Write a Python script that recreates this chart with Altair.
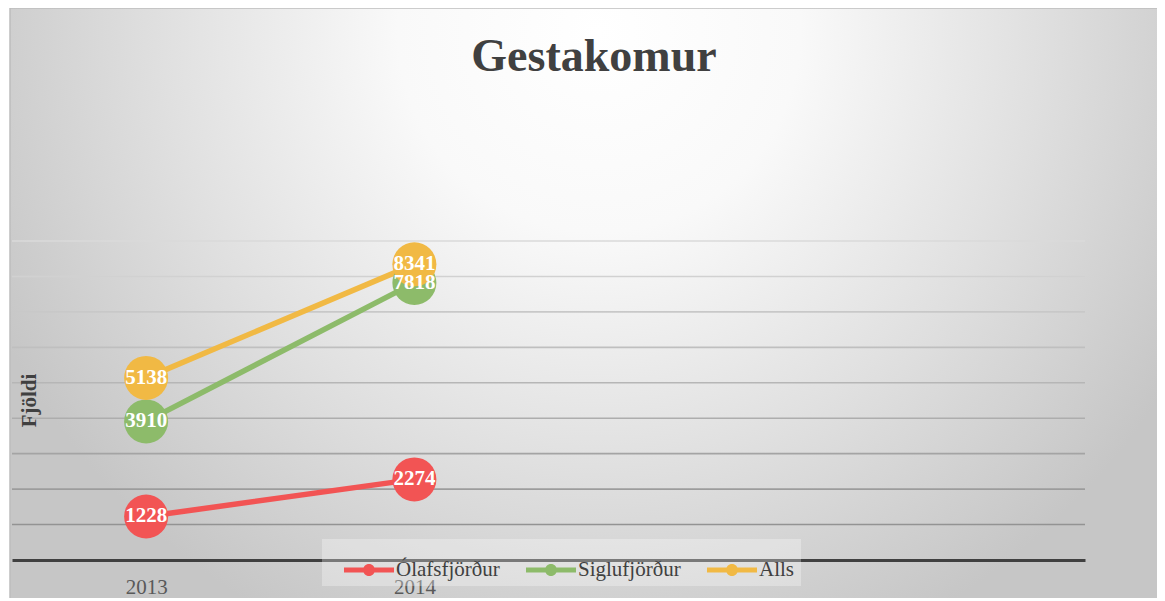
import altair as alt
import pandas as pd

# ---- data ----
years = ["2013", "2014"]
all_categories = ["2013", "2014", "2015", "2016"]
series = ["Ólafsfjörður", "Siglufjörður", "Alls"]
olafsfjordur = [1228, 2274]
siglufjordur = [3910, 7818]
alls = [5138, 8341]
colors = ["#F25454", "#8DBB6A", "#F1B944"]
grid_values = [1000, 2000, 3000, 4000, 5000, 6000, 7000, 8000, 9000]
title_text = ["Gestakomur"]

rows = []
for s, vals in zip(series, [olafsfjordur, siglufjordur, alls]):
    for yr, v in zip(years, vals):
        rows.append({"Ár": yr, "Röð": s, "Fjöldi": v})
df = pd.DataFrame(rows)
grid_df = pd.DataFrame({"v": grid_values})
title_df = pd.DataFrame({"t": title_text})
bg_df = pd.DataFrame({"k": [0]})

W, H = 1073, 319
FONT = "Liberation Serif"

yscale = alt.Scale(domain=[0, 9000], nice=False, zero=True)
xscale = alt.Scale(domain=all_categories, type="point", padding=0.5)
cscale = alt.Scale(domain=series, range=colors)

x_axis = alt.Axis(
    title=None,
    labelExpr="(datum.value == '2013' || datum.value == '2014') ? datum.value : ''",
    ticks=False,
    grid=False,
    domainColor="#404040",
    domainWidth=3,
    labelFont=FONT,
    labelFontSize=21,
    labelColor="#595959",
    labelPadding=16,
    labelAngle=0,
    zindex=2,
)
y_axis = alt.Axis(
    grid=False,
    labels=False,
    ticks=False,
    domain=False,
    title="Fjöldi",
    titleX=17,
    titleY=159,
    titleAngle=270,
    titleAlign="center",
    titleBaseline="middle",
    titleFont=FONT,
    titleFontSize=21,
    titleFontWeight="bold",
    titleColor="#404040",
    zindex=2,
)

x_enc = alt.X("Ár:N", scale=xscale, sort=all_categories, axis=x_axis)
y_enc = alt.Y("Fjöldi:Q", scale=yscale, axis=y_axis, title="Fjöldi")

legend_path = "M-1,-0.1 H1 V0.1 H-1 Z M0.24,0 A0.24,0.24 0 1,1 -0.24,0 A0.24,0.24 0 1,1 0.24,0 Z"
legend = alt.Legend(
    title=" ",
    titleOrient="left",
    titleFontSize=1,
    titlePadding=16,
    orient="none",
    legendX=310,
    legendY=298,
    direction="horizontal",
    symbolType=legend_path,
    symbolSize=2500,
    symbolStrokeWidth=0,
    symbolOpacity=1,
    labelFont=FONT,
    labelFontSize=21,
    labelColor="#404040",
    labelOffset=2,
    columnPadding=26,
    fillColor="rgba(255,255,255,0.3)",
    padding=6,
    zindex=3,
)
c_enc = alt.Color("Röð:N", scale=cscale, legend=legend, title=" ")

# background (radial gradient)
bg = alt.Chart(bg_df).mark_rect(
    fill=alt.Gradient(
        gradient="radial",
        x1=0.51, y1=0.02, r1=0.0,
        x2=0.51, y2=0.02, r2=0.58,
        stops=[
            alt.GradientStop(color="#ffffff", offset=0.0),
            alt.GradientStop(color="#f9f9f9", offset=0.3),
            alt.GradientStop(color="#e0e0e0", offset=0.65),
            alt.GradientStop(color="#c6c6c6", offset=1.0),
        ],
    ),
    stroke="#bdbdbd",
    strokeWidth=1.5,
).encode(x=alt.value(-2), x2=alt.value(1153), y=alt.value(-233), y2=alt.value(922))

grid = alt.Chart(grid_df).mark_rule(strokeWidth=1.6).encode(
    y=alt.Y("v:Q", scale=yscale, axis=y_axis, title="Fjöldi"),
    x=alt.value(0),
    x2=alt.value(W),
    stroke=alt.Stroke("v:Q", scale=alt.Scale(domain=[1000, 9000], range=["#939393", "#dadada"]), legend=None),
)

lines = alt.Chart(df).mark_line(strokeWidth=5.5, strokeCap="round").encode(
    x=x_enc,
    y=y_enc,
    color=c_enc,
)

points = alt.Chart(df).mark_circle(size=1936, opacity=1).encode(
    x=x_enc,
    y=y_enc,
    color=c_enc,
)

labels = alt.Chart(df).mark_text(
    font=FONT, fontSize=21, fontWeight="bold", color="white", align="center", baseline="middle"
).encode(x=x_enc, y=y_enc, text=alt.Text("Fjöldi:Q", format="d"))

title = alt.Chart(title_df).mark_text(
    font=FONT, fontSize=46, fontWeight="bold", color="#404040", align="center", baseline="alphabetic"
).encode(text="t:N", x=alt.value(582), y=alt.value(-170))

chart = alt.layer(bg, grid, lines, points, labels, title).properties(
    width=W,
    height=H,
    autosize=alt.AutoSizeParams(type="none"),
    padding={"left": 4, "top": 233, "right": 72, "bottom": 38},
).configure_view(stroke=None)

chart.save("out.html", embed_options={"renderer": "svg", "actions": False})
